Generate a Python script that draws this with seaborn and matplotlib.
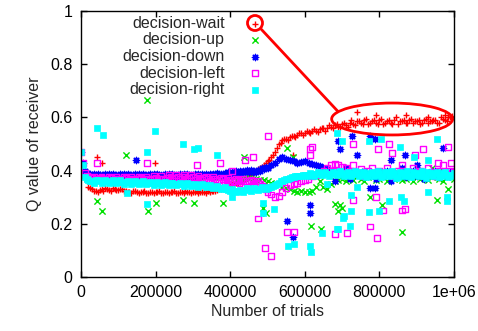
import seaborn as sns
import matplotlib.pyplot as plt
from matplotlib.patches import Ellipse
from matplotlib.lines import Line2D

# trials (in thousands) for the dense part of every series
TRIALS_K = [0, 10, 20, 30, 40, 50, 60, 70, 80, 90,
            100, 110, 120, 130, 140, 150, 160, 170, 180, 190,
            200, 210, 220, 230, 240, 250, 260, 270, 280, 290,
            300, 310, 320, 330, 340, 350, 360, 370, 380, 390,
            400, 410, 420, 430, 440, 450, 460, 470, 480, 490,
            500, 510, 520, 530, 540, 550, 560, 570, 580, 590,
            600, 610, 620, 630, 640, 650, 660, 670, 680, 690,
            700, 710, 720, 730, 740, 750, 760, 770, 780, 790,
            800, 810, 820, 830, 840, 850, 860, 870, 880, 890,
            900, 910, 920, 930, 940, 950, 960, 970, 980, 990,
            1000]
# in-between trials (in thousands), second sweep for the thicker bands
TRIALS2_K = [5, 15, 25, 35, 45, 55, 65, 75, 85, 95,
             105, 115, 125, 135, 145, 155, 165, 175, 185, 195,
             205, 215, 225, 235, 245, 255, 265, 275, 285, 295,
             305, 315, 325, 335, 345, 355, 365, 375, 385, 395,
             405, 415, 425, 435, 445, 455, 465, 475, 485, 495,
             505, 515, 525, 535, 545, 555, 565, 575, 585, 595,
             605, 615, 625, 635, 645, 655, 665, 675, 685, 695,
             705, 715, 725, 735, 745, 755, 765, 775, 785, 795,
             805, 815, 825, 835, 845, 855, 865, 875, 885, 895,
             905, 915, 925, 935, 945, 955, 965, 975, 985, 995]

wait_q = [0.47, 0.38, 0.34, 0.33, 0.325, 0.327, 0.322, 0.33, 0.325, 0.33,
          0.328, 0.33, 0.325, 0.32, 0.325, 0.32, 0.318, 0.322, 0.317, 0.32,
          0.318, 0.322, 0.317, 0.32, 0.318, 0.322, 0.317, 0.32, 0.322, 0.318,
          0.32, 0.322, 0.318, 0.32, 0.322, 0.322, 0.325, 0.33, 0.335, 0.34,
          0.345, 0.35, 0.355, 0.36, 0.37, 0.375, 0.39, 0.40, 0.41, 0.42,
          0.435, 0.45, 0.47, 0.50, 0.515, 0.52, 0.525, 0.53, 0.535, 0.54,
          0.54, 0.545, 0.55, 0.55, 0.555, 0.56, 0.56, 0.565, 0.57, 0.565,
          0.575, 0.57, 0.58, 0.575, 0.585, 0.58, 0.59, 0.575, 0.585, 0.58,
          0.59, 0.575, 0.585, 0.58, 0.59, 0.575, 0.585, 0.58, 0.59, 0.58,
          0.585, 0.575, 0.59, 0.58, 0.585, 0.59, 0.58, 0.595, 0.585, 0.60,
          0.595]
wait_q2 = [0.42, 0.36, 0.335, 0.325, 0.32, 0.33, 0.335, 0.328, 0.333, 0.326,
           0.332, 0.325, 0.32, 0.316, 0.322, 0.315, 0.32, 0.314, 0.32, 0.315,
           0.32, 0.314, 0.32, 0.315, 0.32, 0.314, 0.32, 0.315, 0.32, 0.315,
           0.318, 0.316, 0.32, 0.317, 0.32, 0.322, 0.328, 0.332, 0.338, 0.342,
           0.348, 0.352, 0.358, 0.365, 0.372, 0.382, 0.395, 0.405, 0.415, 0.428,
           0.44, 0.46, 0.485, 0.505, 0.52, 0.515, 0.53, 0.525, 0.54, 0.535,
           0.55, 0.54, 0.555, 0.545, 0.56, 0.55, 0.57, 0.56, 0.575, 0.565,
           0.58, 0.565, 0.59, 0.57, 0.585, 0.575, 0.595, 0.58, 0.59, 0.575,
           0.595, 0.58, 0.59, 0.575, 0.60, 0.585, 0.59, 0.58, 0.595, 0.585,
           0.59, 0.58, 0.595, 0.585, 0.59, 0.58, 0.60, 0.59, 0.60, 0.605]

up_q = [0.47, 0.385, 0.38, 0.378, 0.38, 0.377, 0.38, 0.378, 0.38, 0.377,
        0.38, 0.378, 0.377, 0.38, 0.378, 0.38, 0.377, 0.378, 0.38, 0.378,
        0.377, 0.38, 0.378, 0.38, 0.377, 0.378, 0.38, 0.378, 0.377, 0.38,
        0.378, 0.38, 0.377, 0.378, 0.38, 0.378, 0.377, 0.375, 0.378, 0.376,
        0.375, 0.377, 0.374, 0.376, 0.372, 0.374, 0.37, 0.368, 0.366, 0.364,
        0.36, 0.355, 0.35, 0.345, 0.34, 0.335, 0.33, 0.325, 0.32, 0.322,
        0.318, 0.32, 0.325, 0.34, 0.36, 0.34, 0.33, 0.35, 0.36, 0.365,
        0.37, 0.36, 0.375, 0.365, 0.38, 0.37, 0.36, 0.375, 0.38, 0.365,
        0.37, 0.38, 0.36, 0.375, 0.37, 0.385, 0.365, 0.37, 0.38, 0.36,
        0.375, 0.37, 0.38, 0.365, 0.375, 0.385, 0.37, 0.36, 0.375, 0.38,
        0.37]
up_q2 = []

down_q = [0.47, 0.40, 0.385, 0.38, 0.378, 0.382, 0.377, 0.38, 0.383, 0.38,
          0.378, 0.382, 0.377, 0.379, 0.383, 0.378, 0.38, 0.377, 0.382, 0.38,
          0.378, 0.382, 0.377, 0.379, 0.383, 0.378, 0.38, 0.382, 0.379, 0.38,
          0.378, 0.38, 0.382, 0.379, 0.38, 0.383, 0.38, 0.382, 0.384, 0.386,
          0.388, 0.39, 0.392, 0.39, 0.393, 0.395, 0.393, 0.396, 0.40, 0.405,
          0.41, 0.42, 0.43, 0.445, 0.45, 0.445, 0.44, 0.435, 0.43, 0.432,
          0.435, 0.43, 0.425, 0.42, 0.418, 0.41, 0.405, 0.40, 0.36, 0.395,
          0.39, 0.41, 0.37, 0.395, 0.46, 0.385, 0.40, 0.38, 0.39, 0.37,
          0.395, 0.38, 0.40, 0.36, 0.39, 0.385, 0.41, 0.375, 0.39, 0.40,
          0.38, 0.395, 0.37, 0.39, 0.385, 0.40, 0.375, 0.39, 0.38, 0.395,
          0.385]
down_q2 = [0.43, 0.39, 0.388, 0.386, 0.388, 0.385, 0.388, 0.386, 0.389, 0.385,
           0.388, 0.386, 0.389, 0.385, 0.388, 0.386, 0.389, 0.385, 0.388, 0.386,
           0.389, 0.385, 0.388, 0.386, 0.389, 0.385, 0.388, 0.386, 0.389, 0.385,
           0.388, 0.386, 0.389, 0.386, 0.389, 0.387, 0.39, 0.389, 0.392, 0.394,
           0.396, 0.398, 0.40, 0.398, 0.401, 0.403, 0.40, 0.404, 0.408, 0.412]

left_q = [0.47, 0.39, 0.375, 0.372, 0.37, 0.372, 0.368, 0.37, 0.372, 0.37,
          0.368, 0.37, 0.372, 0.37, 0.368, 0.37, 0.372, 0.37, 0.368, 0.37,
          0.372, 0.37, 0.368, 0.372, 0.375, 0.372, 0.375, 0.378, 0.375, 0.372,
          0.375, 0.372, 0.37, 0.372, 0.368, 0.37, 0.368, 0.365, 0.368, 0.365,
          0.365, 0.362, 0.365, 0.362, 0.36, 0.362, 0.36, 0.355, 0.35, 0.34,
          0.32, 0.31, 0.30, 0.305, 0.32, 0.335, 0.345, 0.35, 0.355, 0.36,
          0.365, 0.37, 0.38, 0.385, 0.39, 0.40, 0.41, 0.42, 0.425, 0.42,
          0.415, 0.41, 0.40, 0.42, 0.39, 0.405, 0.38, 0.40, 0.41, 0.39,
          0.40, 0.385, 0.41, 0.395, 0.38, 0.40, 0.42, 0.39, 0.395, 0.41,
          0.39, 0.40, 0.385, 0.41, 0.395, 0.38, 0.40, 0.42, 0.39, 0.40,
          0.395]
left_q2 = [0.43, 0.38, 0.365, 0.378, 0.364, 0.377, 0.363, 0.376, 0.364, 0.378,
           0.362, 0.377, 0.364, 0.378, 0.363, 0.377, 0.365, 0.378, 0.364, 0.379,
           0.365, 0.38, 0.366, 0.382, 0.368, 0.383, 0.369, 0.384, 0.368, 0.382,
           0.366, 0.38, 0.364, 0.378, 0.362, 0.376, 0.36, 0.374, 0.358, 0.372,
           0.357, 0.37, 0.355, 0.368, 0.352, 0.366, 0.35, 0.36, 0.342, 0.33]

right_q = [0.47, 0.375, 0.365, 0.362, 0.363, 0.36, 0.362, 0.36, 0.358, 0.36,
           0.358, 0.357, 0.358, 0.356, 0.357, 0.355, 0.356, 0.354, 0.355, 0.353,
           0.354, 0.352, 0.353, 0.351, 0.352, 0.35, 0.351, 0.349, 0.35, 0.348,
           0.347, 0.346, 0.345, 0.344, 0.342, 0.34, 0.338, 0.336, 0.334, 0.33,
           0.325, 0.322, 0.323, 0.325, 0.328, 0.33, 0.332, 0.33, 0.332, 0.334,
           0.336, 0.34, 0.345, 0.355, 0.362, 0.368, 0.372, 0.375, 0.378, 0.38,
           0.383, 0.385, 0.387, 0.386, 0.388, 0.39, 0.387, 0.389, 0.39, 0.388,
           0.39, 0.385, 0.392, 0.388, 0.395, 0.385, 0.39, 0.38, 0.395, 0.385,
           0.39, 0.38, 0.395, 0.385, 0.39, 0.375, 0.39, 0.385, 0.38, 0.395,
           0.385, 0.39, 0.38, 0.395, 0.385, 0.39, 0.375, 0.39, 0.385, 0.38,
           0.39]
right_q2 = [0.42, 0.37, 0.36, 0.355, 0.366, 0.355, 0.366, 0.354, 0.364, 0.353,
            0.363, 0.351, 0.362, 0.35, 0.361, 0.349, 0.36, 0.348, 0.359, 0.347,
            0.358, 0.346, 0.356, 0.345, 0.355, 0.344, 0.354, 0.343, 0.353, 0.342,
            0.351, 0.34, 0.349, 0.338, 0.347, 0.334, 0.343, 0.33, 0.338, 0.326,
            0.33, 0.318, 0.328, 0.32, 0.333, 0.325, 0.336, 0.326, 0.337, 0.33,
            0.338, 0.343, 0.35, 0.36, 0.366, 0.37, 0.375, 0.378, 0.38, 0.382,
            0.378, 0.392, 0.38, 0.395, 0.382, 0.396, 0.38, 0.395, 0.382, 0.397,
            0.38, 0.395, 0.378, 0.398, 0.38, 0.395, 0.375, 0.392, 0.378, 0.40,
            0.375, 0.393, 0.378, 0.398, 0.372, 0.395, 0.378, 0.397, 0.375, 0.392,
            0.378, 0.398, 0.372, 0.39, 0.378, 0.396, 0.38, 0.395, 0.375, 0.385]

# scattered points off the main bands: (trials in thousands, Q value)
wait_out_k = [12, 43, 55, 198, 568, 740, 790, 870, 930, 975]
wait_out_q = [0.375, 0.45, 0.43, 0.43, 0.46, 0.62, 0.61, 0.61, 0.60, 0.61]

up_out_k = [177, 43, 56, 121, 180, 201, 274, 303, 381, 437, 488, 495, 552, 568,
            617, 643, 681, 694, 690, 700, 775, 807, 861, 954, 984, 940, 960]
up_out_q = [0.665, 0.285, 0.25, 0.46, 0.25, 0.28, 0.29, 0.28, 0.28, 0.45, 0.26, 0.24, 0.485, 0.45,
            0.19, 0.18, 0.275, 0.27, 0.25, 0.26, 0.30, 0.27, 0.17, 0.29, 0.33, 0.41, 0.40]

down_out_k = [147, 553, 568, 614, 614, 775, 787, 694, 690, 869, 970, 727, 775, 787,
              650, 830, 900]
down_out_q = [0.44, 0.21, 0.15, 0.27, 0.24, 0.335, 0.335, 0.48, 0.51, 0.46, 0.485, 0.53, 0.53, 0.52,
              0.41, 0.44, 0.42]

left_out_k = [43, 177, 311, 373, 405, 440, 461, 501, 475, 493, 509, 552, 571, 614, 614, 619,
              681, 713, 729, 729, 775, 794, 790, 796, 810, 834, 825, 861, 868, 895, 917, 958,
              984, 993]
left_out_q = [0.43, 0.43, 0.42, 0.43, 0.40, 0.44, 0.45, 0.53, 0.22, 0.11, 0.08, 0.17, 0.17, 0.48, 0.46, 0.49,
              0.16, 0.165, 0.29, 0.50, 0.19, 0.145, 0.30, 0.48, 0.25, 0.465, 0.50, 0.25, 0.255, 0.46, 0.48, 0.43,
              0.49, 0.43]

right_out_k = [43, 59, 198, 274, 303, 314, 177, 365, 123, 177, 405, 488, 489, 517, 555, 571,
               614, 617, 646, 686, 690, 702, 704, 721, 723, 725, 772, 799, 825, 867, 858, 930,
               981, 980, 686, 700, 772, 804, 856, 954, 893, 929, 660, 740]
right_out_q = [0.56, 0.535, 0.55, 0.50, 0.48, 0.485, 0.47, 0.46, 0.315, 0.275, 0.30, 0.28, 0.24, 0.255, 0.115, 0.125,
               0.115, 0.095, 0.165, 0.18, 0.18, 0.22, 0.23, 0.19, 0.25, 0.31, 0.245, 0.25, 0.285, 0.285, 0.30, 0.32,
               0.285, 0.30, 0.54, 0.51, 0.51, 0.52, 0.49, 0.52, 0.45, 0.44, 0.35, 0.34]

series = [
    ('decision-wait', wait_q, wait_q2, wait_out_k, wait_out_q, '#ff0000', '+'),
    ('decision-up', up_q, up_q2, up_out_k, up_out_q, '#00e000', 'x'),
    ('decision-down', down_q, down_q2, down_out_k, down_out_q, '#0000ff', (8, 2, 0)),
    ('decision-left', left_q, left_q2, left_out_k, left_out_q, '#ff00ff', 's'),
    ('decision-right', right_q, right_q2, right_out_k, right_out_q, '#00ffff', 's'),
]

sns.set_style('ticks')
plt.rcParams['font.family'] = ['Liberation Sans', 'DejaVu Sans']
FS = 11.5

fig = plt.figure(figsize=(4.78, 3.31), dpi=100)
ax = fig.add_axes([81 / 478, 54 / 331, 373 / 478, 266 / 331])

for name, band, band2, out_k, out_q, col, mk in series:
    ks = TRIALS_K + TRIALS2_K[:len(band2)] + out_k
    xs = [k * 1000 for k in ks]
    ys = band + band2 + out_q
    if name == 'decision-left':
        sns.scatterplot(x=xs, y=ys, ax=ax, marker=mk, s=18, facecolor='none',
                        edgecolor=col, linewidth=1, label=name)
    elif name == 'decision-right':
        sns.scatterplot(x=xs, y=ys, ax=ax, marker=mk, s=18, color=col,
                        edgecolor=col, linewidth=0.5, label=name)
    else:
        sns.scatterplot(x=xs, y=ys, ax=ax, marker=mk, s=20, color=col,
                        linewidth=1, label=name)

ax.set_xlim(0, 1000000)
ax.set_ylim(0, 1)
ax.set_xticks([0, 200000, 400000, 600000, 800000, 1000000])
ax.set_xticklabels(['0', '200000', '400000', '600000', '800000', '1e+06'])
ax.set_yticks([0, 0.2, 0.4, 0.6, 0.8, 1])
ax.set_yticklabels(['0', '0.2', '0.4', '0.6', '0.8', '1'])
ax.tick_params(direction='in', top=True, right=True, length=4, width=1,
               pad=6, labelsize=FS, colors='black')
for sp in ax.spines.values():
    sp.set_linewidth(1)
    sp.set_color('black')
ax.set_xlabel('Number of trials', fontsize=FS, labelpad=3)
ax.set_ylabel('Q value of receiver', fontsize=FS, labelpad=6)

leg = ax.legend(loc='upper right', bbox_to_anchor=(0.488, 0.982), markerfirst=False,
                frameon=False, fontsize=FS, labelspacing=0.1, handlelength=1.0,
                handletextpad=1.4, borderaxespad=0, borderpad=0)

# annotation: circle round the wait marker, line to an ellipse round the plateau
circ = Ellipse((255 / 478, 1 - 23 / 331), 15 / 478, 15 / 331, transform=fig.transFigure,
               fill=False, edgecolor='#ff0000', linewidth=2)
fig.add_artist(circ)
fig.add_artist(Line2D([261.5 / 478, 338 / 478], [1 - 29.5 / 331, 1 - 111.5 / 331],
                      transform=fig.transFigure, color='#ff0000', linewidth=2))
ax.add_patch(Ellipse((834000, 0.594), 324000, 0.12, fill=False,
                     edgecolor='#ff0000', linewidth=2))

plt.savefig('out.png', dpi=100)
